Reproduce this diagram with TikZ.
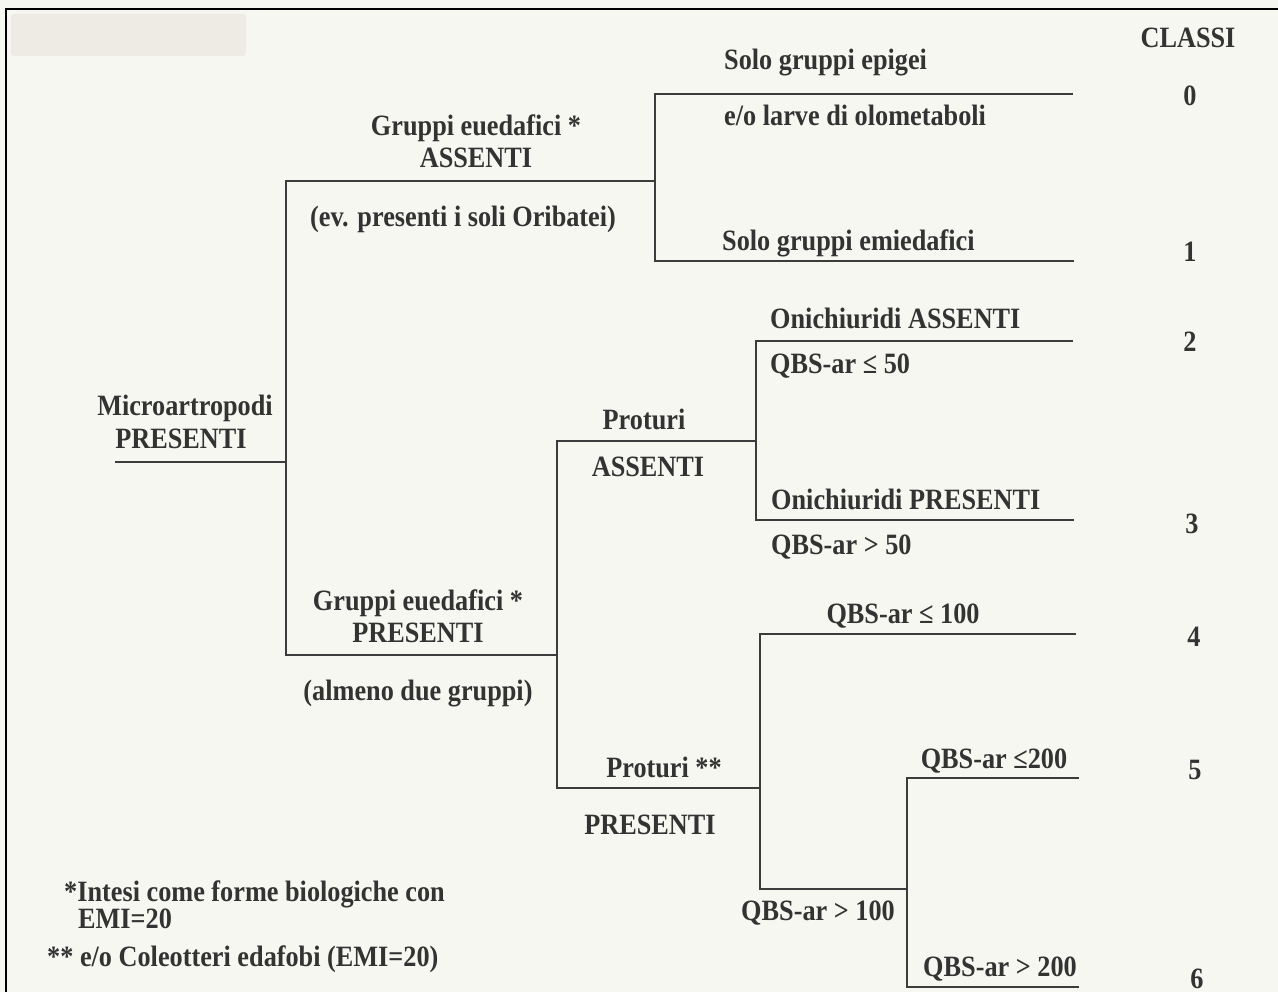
\documentclass[tikz,border=0pt]{standalone}
\usepackage{fontspec}
\setmainfont{Liberation Serif}[FakeStretch=0.89]
\definecolor{bg}{HTML}{F7F7F2}
\definecolor{patch}{HTML}{EDEBE3}
\definecolor{ln}{HTML}{3C3C3C}
\definecolor{txt}{HTML}{333333}
\begin{document}
\begin{tikzpicture}[x=1pt,y=-1pt,
  lbl/.style={inner sep=0pt, anchor=base, text=txt, font=\bfseries\fontsize{29.5}{32}\selectfont},
  lblw/.style={lbl, anchor=base west},
  br/.style={draw=ln, line width=1.8pt, line cap=rect, line join=miter}]
\useasboundingbox (0,0) rectangle (1278,992);
\fill[bg] (0,0) rectangle (1278,992);
\fill[patch, rounded corners=3pt] (11,14) rectangle (246,56);
\draw[black, line width=2pt] (6,992) -- (6,9) -- (1278,9);

% junction coordinates
\coordinate (r0) at (116,462);
\coordinate (j1) at (286,462);
\coordinate (a1) at (286,181); \coordinate (a2) at (655,181);
\coordinate (b1) at (286,655); \coordinate (b2) at (557,655);
\coordinate (l0s) at (655,94);  \coordinate (l0e) at (1072,94);
\coordinate (l1s) at (655,261); \coordinate (l1e) at (1073,261);
\coordinate (pa1) at (557,441); \coordinate (pa2) at (756,441);
\coordinate (l2s) at (756,341); \coordinate (l2e) at (1072,341);
\coordinate (l3s) at (756,520); \coordinate (l3e) at (1073,520);
\coordinate (pp1) at (557,788); \coordinate (pp2) at (760,788);
\coordinate (l4s) at (760,634); \coordinate (l4e) at (1075,634);
\coordinate (q1) at (760,889);  \coordinate (q2) at (907,889);
\coordinate (l5s) at (907,778); \coordinate (l5e) at (1078,778);
\coordinate (l6s) at (907,987); \coordinate (l6e) at (1078,987);

% branches
\draw[br] (r0) -- (j1);
\draw[br] (a2) -- (a1) -- (b1) -- (b2);
\draw[br] (l0e) -- (l0s) -- (l1s) -- (l1e);
\draw[br] (pa2) -- (pa1) -- (pp1) -- (pp2);
\draw[br] (l2e) -- (l2s) -- (l3s) -- (l3e);
\draw[br] (l4e) -- (l4s) -- (q1) -- (q2);
\draw[br] (l5e) -- (l5s) -- (l6s) -- (l6e);

% header and classes
\node[lbl] (classi) at (1188,48) {CLASSI};
\node[lbl] (c0) at (1190,106) {0};
\node[lbl] (c1) at (1190,262) {1};
\node[lbl] (c2) at (1190,352) {2};
\node[lbl] (c3) at (1192,533) {3};
\node[lbl] (c4) at (1194,646) {4};
\node[lbl] (c5) at (1195,779) {5};
\node[lbl] (c6) at (1197,988) {6};

% root
\node[lbl] (micro) at (185,416) {Microartropodi};
\node[lbl] (micropres) at (181,448) {PRESENTI};

% upper branch
\node[lbl] (geu1) at (476,136) {Gruppi euedafici *};
\node[lbl] (gass) at (476,168) {ASSENTI};
\node[lbl] (orib) at (463,227) {(ev. presenti i soli Oribatei)};
\node[lblw] (epi) at (724,70) {Solo gruppi epigei};
\node[lblw] (olo) at (724,126) {e/o larve di olometaboli};
\node[lblw] (emi) at (722,251) {Solo gruppi emiedafici};

% lower branch
\node[lbl] (geu2) at (418,610) {Gruppi euedafici *};
\node[lbl] (gpres) at (418,642) {PRESENTI};
\node[lbl] (almeno) at (418,700) {(almeno due gruppi)};
\node[lbl] (prot) at (644,429) {Proturi};
\node[lbl] (protass) at (648,476) {ASSENTI};
\node[lblw] (oniass) at (770,329) {Onichiuridi ASSENTI};
\node[lblw] (q50a) at (770,374) {QBS-ar ≤ 50};
\node[lblw] (onipres) at (771,509) {Onichiuridi PRESENTI};
\node[lblw] (q50b) at (771,554) {QBS-ar > 50};
\node[lbl] (prot2) at (664,777) {Proturi **};
\node[lbl] (protpres) at (650,834) {PRESENTI};
\node[lbl] (q100a) at (903,623) {QBS-ar ≤ 100};
\node[lbl] (q100b) at (818,920) {QBS-ar > 100};
\node[lbl] (q200a) at (994,768) {QBS-ar ≤200};
\node[lbl] (q200b) at (1000,976) {QBS-ar > 200};

% footnotes
\node[lblw] (fn1) at (64,901) {*Intesi come forme biologiche con};
\node[lblw] (fn2) at (78,928) {EMI=20};
\node[lblw] (fn3) at (47,966) {** e/o Coleotteri edafobi (EMI=20)};
\end{tikzpicture}
\end{document}
